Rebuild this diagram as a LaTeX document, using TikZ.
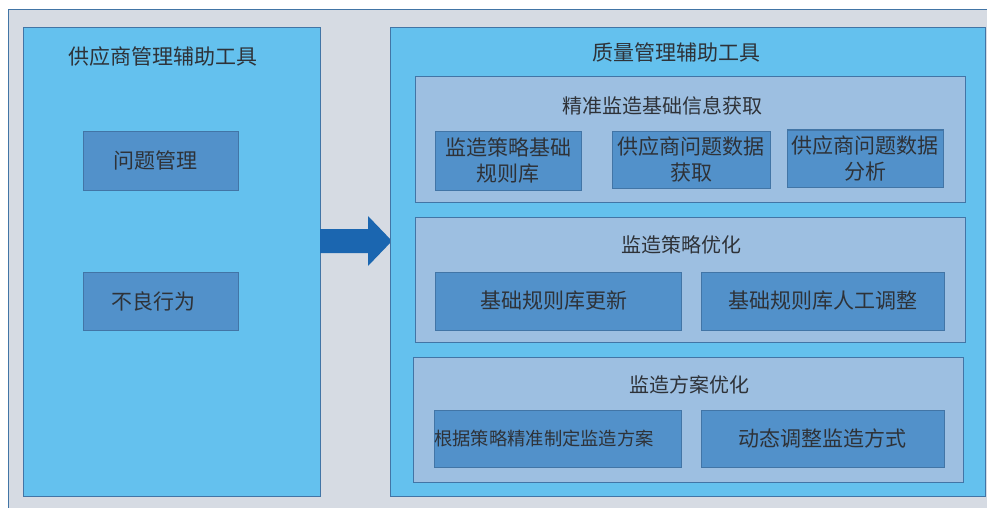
\documentclass[tikz,border=0pt]{standalone}
\usepackage{fontspec}
\newfontfamily\cjk{Noto Sans CJK SC}
\definecolor{bggray}{HTML}{D6DBE3}
\definecolor{lblue}{HTML}{64C1EE}
\definecolor{panel}{HTML}{9DBFE1}
\definecolor{sub}{HTML}{5291CA}
\definecolor{edge}{HTML}{4275A6}
\definecolor{arr}{HTML}{1B66B0}
\definecolor{txt}{HTML}{2E3238}
\tikzset{
  outerbox/.style={draw=edge, line width=1pt, fill=lblue},
  panelbox/.style={draw=edge, line width=1pt, fill=panel},
  subbox/.style={draw=edge, line width=1pt, fill=sub, text=txt, align=center, font=\cjk\fontsize{21}{26}\selectfont, inner sep=0pt},
  ttl/.style={text=txt, font=\cjk\fontsize{21}{25}\selectfont, inner sep=0pt}
}
\begin{document}
\begin{tikzpicture}[x=1pt,y=-1pt]
\useasboundingbox (0,0) rectangle (987,508);
\fill[white] (0,0) rectangle (987,508);
\fill[bggray] (8,10) rectangle (990,510);
\draw[edge, line width=1pt] (8,510) -- (8,10) -- (990,10);
% left
\draw[outerbox] (23,28) rectangle (320,496);
\node[ttl] (lt) at (162.5,57) {供应商管理辅助工具};
\node[subbox, minimum width=155pt, minimum height=59pt] (l1) at (160.5,160.5) {问题管理\hspace*{10pt}};
\node[subbox, minimum width=155pt, minimum height=58pt] (l2) at (160.5,301) {不良行为\hspace*{14pt}};
% arrow
\fill[arr] (320,229) -- (368,229) -- (368,216) -- (392,241) -- (368,266) -- (368,253) -- (320,253) -- cycle;
% right
\draw[outerbox] (390,28) rectangle (985,496);
\node[ttl] (rt) at (676,52) {质量管理辅助工具};
\draw[panelbox] (415,77) rectangle (965,202);
\node[ttl, font=\cjk\fontsize{20}{24}\selectfont] (p1) at (662,106) {精准监造基础信息获取};
\node[subbox, minimum width=146pt, minimum height=59pt] (a1) at (508,160.5) {监造策略基础\\规则库};
\node[subbox, minimum width=158pt, minimum height=57pt] (a2) at (691,159.5) {供应商问题数据\\获取};
\node[subbox, minimum width=156pt, minimum height=57pt] (a3) at (865,158.5) {供应商问题数据\\分析};
\draw[panelbox] (415,217) rectangle (965,342);
\node[ttl, font=\cjk\fontsize{20}{24}\selectfont] (p2) at (681,245) {监造策略优化};
\node[subbox, minimum width=246pt, minimum height=58pt] (b1) at (558,301) {基础规则库更新\hspace*{8pt}};
\node[subbox, minimum width=243pt, minimum height=58pt] (b2) at (822.5,301) {基础规则库人工调整};
\draw[panelbox] (413,357) rectangle (963,482);
\node[ttl, font=\cjk\fontsize{20}{24}\selectfont] (p3) at (689,385) {监造方案优化};
\node[subbox, minimum width=246pt, minimum height=57pt, font=\cjk\fontsize{18.3}{22}\selectfont] (c1) at (558,438.5) {根据策略精准制定监造方案\hspace*{28pt}};
\node[subbox, minimum width=243pt, minimum height=57pt] (c2) at (822.5,438.5) {动态调整监造方式};
\end{tikzpicture}
\end{document}
